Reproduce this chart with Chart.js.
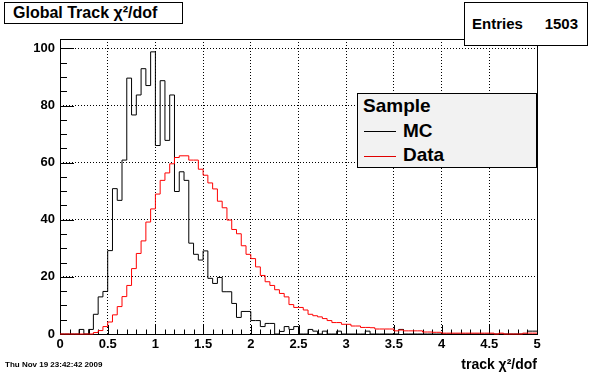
<!DOCTYPE html>
<html>
<head>
<meta charset="utf-8">
<script src="https://cdn.jsdelivr.net/npm/chart.js@4.4.1/dist/chart.umd.min.js"></script>
<style>
  body { margin: 0; background: #fff; }
  #wrap { position: relative; width: 596px; height: 372px; font-family: "Liberation Sans", Arial, sans-serif; font-weight: bold; color: #000; }
  #c { position: absolute; left: 0; top: 0; }
  .box { position: absolute; border: 1px solid #000; background: #fff; box-sizing: border-box; }
  #title { left: 4px; top: 2px; width: 179px; height: 22px; font-size: 16px; line-height: 20px; padding-left: 8px; }
  #stats { left: 464px; top: 2px; width: 124px; height: 44px; font-size: 15px; }
  #stats .k { position: absolute; left: 7px; top: 12px; }
  #stats .v { position: absolute; right: 9px; top: 12px; }
  #legend { left: 357px; top: 93px; width: 180px; height: 75px; background: #f2f2f2; font-size: 19px; }
  #legend .hd { position: absolute; left: 5px; top: 1px; }
  #legend .it { position: absolute; left: 45px; }
  #legend .ln { position: absolute; left: 6px; width: 32px; height: 0; border-top: 1px solid; }
  #date { position: absolute; left: 5px; top: 360px; font-size: 8px; }
</style>
</head>
<body>
<div id="wrap">
  <canvas id="c" width="596" height="372"></canvas>
  <div id="title" class="box">Global Track χ²/dof</div>
  <div id="stats" class="box"><span class="k">Entries</span><span class="v">1503</span></div>
  <div id="legend" class="box">
    <span class="hd">Sample</span>
    <span class="ln" style="top:37px;border-color:#000"></span><span class="it" style="top:26px">MC</span>
    <span class="ln" style="top:62px;border-color:#e00000"></span><span class="it" style="top:50px">Data</span>
  </div>
  <div id="date">Thu Nov 19 23:42:42 2009</div>
</div>
<script>
// histogram binning: 100 bins of track chi2/dof between 0 and 5
const xRange = [0, 5];
const nBins = 100;

// MC (black)
const mcCounts = [
  0, 0, 0, 0, 1.6, 0, 1.6, 6.9, 13.0, 14.9,
  29.2, 50.9, 46.8, 60.9, 89.6, 76.7, 83.7, 92.9, 87.0, 98.8,
  66.0, 88.7, 67.8, 83.7, 49.9, 56.8, 53.8, 31.8, 27.9, 25.9,
  29.1, 19.5, 17.7, 19.8, 14.8, 14.8, 10.7, 5.8, 7.9, 7.9,
  4.7, 4.7, 2.6, 3.7, 3.7, 0, 0.9, 2.6, 1.6, 2.6,
  0, 0, 1.6, 1.0, 0, 1.0, 0, 0, 1.0, 0,
  0, 0, 0, 0, 1.0, 0, 0, 0, 0, 0,
  0, 1.6, 0, 0, 0, 0, 0, 0, 0, 0,
  0, 0, 0, 0, 0, 0, 0, 0, 0, 0,
  0, 0, 0, 0, 0, 0, 0, 0, 1.0, 1.0
];

// Data (red)
const dataCounts = [
  0, 0, 0, 0, 0, 0, 0, 0.5, 1.2, 2.6,
  4.2, 6.7, 9.6, 13.1, 17.0, 22.9, 28.2, 32.6, 39.2, 43.8,
  49.0, 53.8, 56.4, 59.6, 61.8, 62.4, 62.4, 60.9, 60.9, 57.7,
  55.6, 52.9, 50.8, 46.5, 44.2, 39.9, 36.6, 35.1, 30.9, 27.9,
  26.4, 23.5, 20.5, 18.3, 17.0, 15.5, 14.2, 13.0, 10.3, 9.3,
  9.3, 8.4, 6.9, 6.4, 6.0, 5.4, 4.7, 4.0, 4.0, 3.4,
  3.4, 2.8, 2.8, 2.3, 2.3, 2.2, 1.75, 1.75, 1.75, 1.75,
  1.1, 1.4, 1.1, 1.1, 1.1, 1.1, 0.7, 0.7, 0.6, 0.6,
  0.3, 0.3, 0.3, 0.3, 0.3, 0.3, 0.3, 0.3, 0.3, 0.3,
  0.3, 0, 0.3, 0, 0, 0, 0, 0.3, 0.3, 0.3
];

const xTickValues = [0, 0.5, 1, 1.5, 2, 2.5, 3, 3.5, 4, 4.5, 5];
const xTickLabels = ['0', '0.5', '1', '1.5', '2', '2.5', '3', '3.5', '4', '4.5', '5'];
const yTickValues = [0, 20, 40, 60, 80, 100];
const yTickLabels = ['0', '20', '40', '60', '80', '100'];
const yMax = 103.3;

// bin contents -> step points (left edge of each bin + closing point at the end)
function toSteps(counts) {
  const w = (xRange[1] - xRange[0]) / nBins;
  const pts = counts.map((v, i) => ({ x: xRange[0] + i * w, y: v }));
  pts.push({ x: xRange[1], y: counts[counts.length - 1] });
  return pts;
}

// ROOT style frame with ticks pointing inwards
const frameTicks = {
  id: 'frameTicks',
  beforeDatasetsDraw(chart) {
    const { ctx, chartArea: a, scales: { x, y } } = chart;
    ctx.save();
    ctx.strokeStyle = '#000';
    ctx.lineWidth = 1;
    ctx.beginPath();
    for (let i = 0; i <= 50; i++) {
      const px = Math.round(x.getPixelForValue(i * 0.1)) + 0.5;
      const len = i % 5 === 0 ? 9 : 4.5;
      ctx.moveTo(px, a.bottom);
      ctx.lineTo(px, a.bottom - len);
    }
    for (let v = 0; v <= yMax; v += 5) {
      const py = Math.round(y.getPixelForValue(v)) + 0.5;
      const len = v % 20 === 0 ? 14 : 7;
      ctx.moveTo(a.left, py);
      ctx.lineTo(a.left + len, py);
    }
    ctx.stroke();
    ctx.strokeRect(Math.round(a.left) + 0.5, Math.round(a.top) + 0.5,
      Math.round(a.right - a.left), Math.round(a.bottom - a.top));
    ctx.restore();
  }
};

const tickFont = { family: "'Liberation Sans', Arial, sans-serif", size: 13, weight: 'bold' };

new Chart(document.getElementById('c'), {
  type: 'line',
  data: {
    datasets: [
      {
        label: 'MC',
        data: toSteps(mcCounts),
        borderColor: '#000000',
        borderWidth: 1,
        stepped: 'before',
        pointRadius: 0,
        fill: false,
        clip: false,
        order: 1
      },
      {
        label: 'Data',
        data: toSteps(dataCounts),
        borderColor: '#ff0000',
        borderWidth: 1,
        stepped: 'before',
        pointRadius: 0,
        fill: false,
        clip: false,
        order: 0
      }
    ]
  },
  options: {
    responsive: false,
    animation: false,
    events: [],
    layout: { padding: { top: 39, right: 59, left: 0, bottom: 0 } },
    plugins: {
      legend: { display: false },
      title: { display: false },
      tooltip: { enabled: false }
    },
    scales: {
      x: {
        type: 'linear',
        min: xRange[0],
        max: xRange[1],
        afterBuildTicks: s => { s.ticks = xTickValues.map(v => ({ value: v })); },
        afterFit: s => { s.height = 38; },
        ticks: {
          autoSkip: false,
          maxRotation: 0,
          padding: 3,
          color: '#000',
          font: tickFont,
          callback: (v, i) => xTickLabels[i]
        },
        grid: { color: '#000', lineWidth: 1, drawTicks: false },
        border: { display: false, dash: [1, 2] },
        title: {
          display: true,
          text: 'track χ²/dof',
          align: 'end',
          color: '#000',
          font: { family: "'Liberation Sans', Arial, sans-serif", size: 14, weight: 'bold', lineHeight: 1 },
          padding: { top: 0, bottom: 0 }
        }
      },
      y: {
        type: 'linear',
        min: 0,
        max: yMax,
        afterBuildTicks: s => { s.ticks = yTickValues.map(v => ({ value: v })); },
        afterFit: s => { s.width = 60; },
        ticks: {
          padding: 5,
          color: '#000',
          font: tickFont,
          callback: (v, i) => yTickLabels[i]
        },
        grid: { color: '#000', lineWidth: 1, drawTicks: false },
        border: { display: false, dash: [1, 2] }
      }
    }
  },
  plugins: [frameTicks]
});
</script>
</body>
</html>
